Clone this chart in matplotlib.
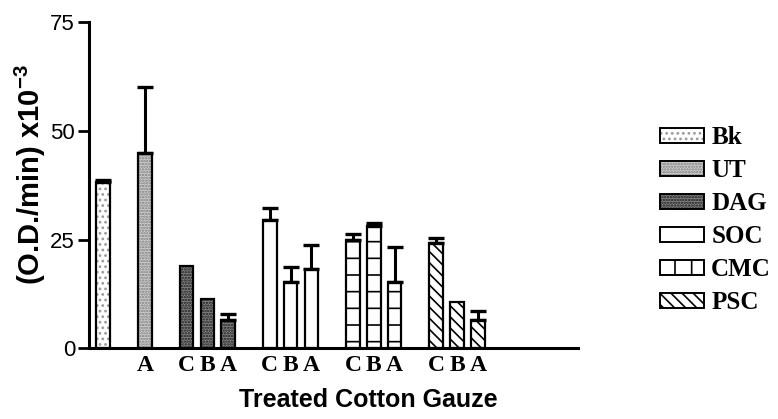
import numpy as np
import matplotlib
matplotlib.use("Agg")
import matplotlib.pyplot as plt
from matplotlib.patches import Patch

# Enzyme activity on treated cotton gauze, (O.D./min) x10^-3
treatments = ["Bk", "UT", "DAG", "SOC", "CMC", "PSC"]
group_index = [0, 0, 1, 2, 3, 4]
levels = [[""], ["A"], ["C", "B", "A"], ["C", "B", "A"], ["C", "B", "A"], ["C", "B", "A"]]

bk_rate = [38.3]
ut_rate = [45.0]
dag_rate = [18.8, 11.3, 6.5]
soc_rate = [29.6, 15.1, 18.2]
cmc_rate = [24.8, 28.2, 15.2]
psc_rate = [24.3, 10.7, 6.5]

bk_err = [0.4]
ut_err = [15.1]
dag_err = [0.0, 0.0, 1.4]
soc_err = [2.6, 3.5, 5.5]
cmc_err = [1.4, 0.6, 8.1]
psc_err = [1.0, 0.0, 2.0]

rates = [bk_rate, ut_rate, dag_rate, soc_rate, cmc_rate, psc_rate]
errors = [bk_err, ut_err, dag_err, soc_err, cmc_err, psc_err]

# fill colour, hatch colour, hatch for the bars, hatch for the legend key
styles = {
    "Bk": ("white", "#9a9a9a", "...", "..."),
    "UT": ("#d2d2d2", "#7a7a7a", "......", "......"),
    "DAG": ("#8a8a8a", "#151515", "......", "......"),
    "SOC": ("white", "black", "", ""),
    "CMC": ("white", "black", "-", "+"),
    "PSC": ("white", "black", "\\\\\\", "\\\\\\"),
}
slot = {"": 0, "C": 0, "B": 1, "A": 2}

plt.rcParams["hatch.linewidth"] = 1.2
plt.rcParams["mathtext.fontset"] = "custom"
plt.rcParams["mathtext.rm"] = "Liberation Sans"
plt.rcParams["mathtext.bf"] = "Liberation Sans:bold"

fig = plt.figure(figsize=(7.78, 4.19), dpi=100)
ax = fig.add_axes([89 / 778, 1 - 348 / 419, (577.7 - 89) / 778, (348 - 22.5) / 419])

ticks, ticklabels, handles = [], [], []
for name, g, lv, vals, errs in zip(treatments, group_index, levels, rates, errors):
    face, hcol, hatch, key_hatch = styles[name]
    x = [4 * g + slot[l] for l in lv]
    ax.bar(x, vals, width=0.66, color=face, edgecolor=hcol, hatch=hatch,
           linewidth=0, zorder=2)
    ax.bar(x, vals, width=0.66, fill=False, edgecolor="black", linewidth=1.6, zorder=3)
    keep = [i for i, e in enumerate(errs) if e > 0]
    if keep:
        ax.errorbar([x[i] for i in keep], [vals[i] for i in keep],
                    yerr=[np.zeros(len(keep)), [errs[i] for i in keep]],
                    fmt="none", ecolor="black", elinewidth=2.2, capsize=6,
                    capthick=2.4, zorder=4)
    ticks += x
    ticklabels += lv
    handles.append((Patch(facecolor=face, edgecolor=hcol, hatch=key_hatch, linewidth=0),
                    Patch(fill=False, edgecolor="black", linewidth=1.4)))

ax.set_xlim(-0.69, 22.8)
ax.set_ylim(0, 75)
ax.set_yticks([0, 25, 50, 75])
ax.set_xticks(ticks)
ax.set_xticklabels(ticklabels, fontfamily="Liberation Serif", fontweight="bold", fontsize=17)
ax.tick_params(axis="x", length=0, pad=5)
ax.tick_params(axis="y", length=8, width=2, direction="out", pad=2, labelsize=16)
for lab in ax.get_yticklabels():
    lab.set_fontfamily("Liberation Sans")
for side in ["top", "right"]:
    ax.spines[side].set_visible(False)
for side in ["left", "bottom"]:
    ax.spines[side].set_linewidth(2.2)

fig.text(30 / 778, 1 - 175 / 419, r"(O.D./min) x10$^{\mathbf{-3}}$", rotation=90,
         ha="center", va="center", fontfamily="Liberation Sans", fontweight="bold",
         fontsize=21)
fig.text(368 / 778, 1 - 400 / 419, "Treated Cotton Gauze", ha="center", va="center",
         fontfamily="Liberation Sans", fontweight="bold", fontsize=18)

fig.legend(handles, treatments, loc="upper left", bbox_to_anchor=(660 / 778, 1 - 126 / 419),
           bbox_transform=fig.transFigure, frameon=False, borderpad=0, borderaxespad=0,
           handlelength=1.75, handleheight=0.55, handletextpad=0.3, labelspacing=0.4,
           prop={"family": "Liberation Serif", "weight": "bold", "size": 18})

fig.savefig("out.png", dpi=100)
